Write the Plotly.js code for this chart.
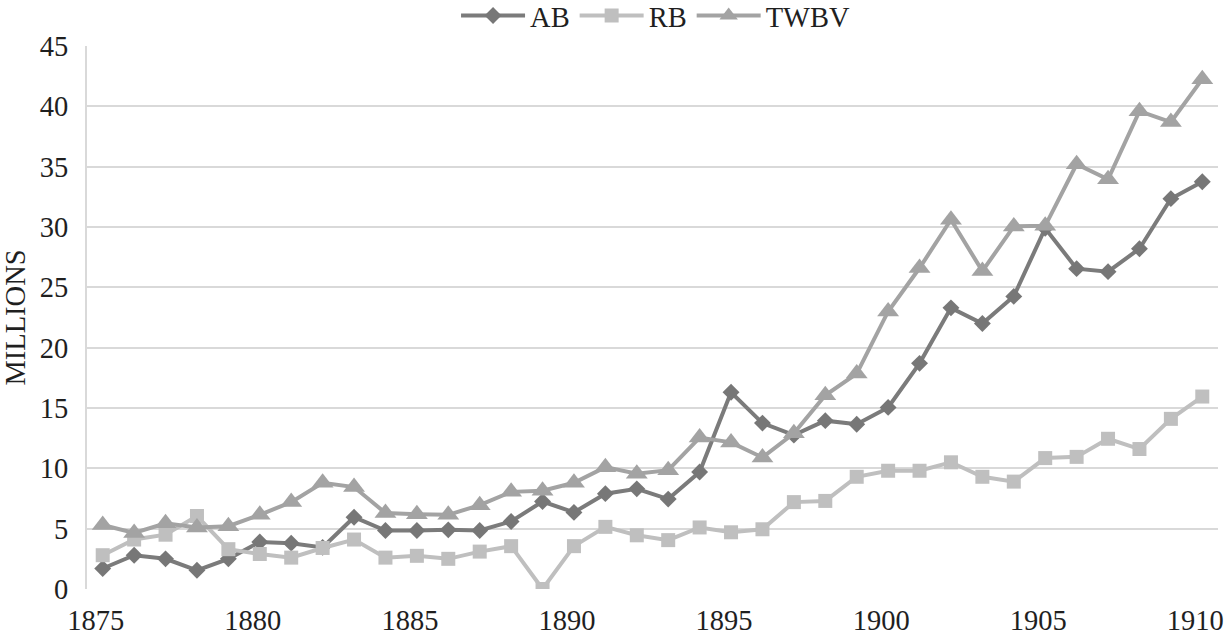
<!DOCTYPE html>
<html>
<head>
<meta charset="utf-8">
<script src="https://cdn.plot.ly/plotly-3.0.1.min.js"></script>
<style>
  html, body { margin: 0; padding: 0; background: #ffffff; }
  #chart { width: 1225px; height: 637px; }
</style>
</head>
<body>
<div id="chart"></div>
<script>
const years = [1875,1876,1877,1878,1879,1880,1881,1882,1883,1884,1885,1886,1887,1888,1889,1890,1891,1892,1893,1894,1895,1896,1897,1898,1899,1900,1901,1902,1903,1904,1905,1906,1907,1908,1909,1910];

const AB = [1.7, 2.8, 2.5, 1.55, 2.5, 3.9, 3.8, 3.45, 5.95, 4.85, 4.85, 4.9, 4.85, 5.6, 7.25, 6.35, 7.9, 8.3, 7.45, 9.7, 16.3, 13.75, 12.75, 13.95, 13.65, 15.05, 18.7, 23.3, 22.0, 24.25, 29.9, 26.55, 26.3, 28.2, 32.35, 33.75];

const RB = [2.8, 4.1, 4.5, 6.05, 3.3, 2.9, 2.6, 3.4, 4.1, 2.6, 2.75, 2.5, 3.1, 3.55, 0, 3.55, 5.15, 4.45, 4.05, 5.1, 4.7, 4.95, 7.2, 7.3, 9.3, 9.8, 9.8, 10.5, 9.3, 8.9, 10.85, 10.95, 12.45, 11.6, 14.1, 15.95];

const TWBV = [5.3, 4.65, 5.45, 5.1, 5.2, 6.15, 7.2, 8.8, 8.45, 6.3, 6.2, 6.15, 6.95, 8.05, 8.15, 8.8, 10.1, 9.55, 9.85, 12.55, 12.15, 10.9, 12.9, 16.05, 17.85, 23.0, 26.6, 30.6, 26.35, 30.05, 30.1, 35.2, 33.95, 39.6, 38.7, 42.25];

const xTicks = [1875, 1880, 1885, 1890, 1895, 1900, 1905, 1910];
const yTicks = [0, 5, 10, 15, 20, 25, 30, 35, 40, 45];

const FONT = '"Liberation Serif", "Times New Roman", Times, serif';
const TXT = '#1f1f1f';
const FS = 28.5;

const traces = [
  {
    x: years, y: AB, name: 'AB', type: 'scatter', mode: 'lines+markers',
    line: { color: '#7b7b7b', width: 4 },
    marker: { symbol: 'diamond', size: 13, color: '#777777' }
  },
  {
    x: years, y: RB, name: 'RB', type: 'scatter', mode: 'lines+markers',
    line: { color: '#bfbfbf', width: 4 },
    marker: { symbol: 'square', size: 14, color: '#bfbfbf' }
  },
  {
    x: years, y: TWBV, name: 'TWBV', type: 'scatter', mode: 'lines+markers',
    line: { color: '#a3a3a3', width: 4 },
    marker: { symbol: 'triangle-up', size: 19, color: '#a3a3a3' }
  }
];

const layout = {
  width: 1225, height: 637,
  margin: { l: 87, r: 7, t: 46, b: 48, pad: 0, autoexpand: false },
  paper_bgcolor: '#ffffff', plot_bgcolor: '#ffffff',
  font: { family: FONT, size: FS, color: TXT },
  showlegend: true,
  legend: {
    orientation: 'h', x: 0.3263, xanchor: 'left',
    y: 1.0552, yanchor: 'middle',
    font: { family: FONT, size: FS, color: TXT },
    itemwidth: 64,
    bgcolor: 'rgba(0,0,0,0)', borderwidth: 0
  },
  xaxis: {
    range: [1874.5, 1910.5],
    tickmode: 'array', tickvals: xTicks, ticktext: xTicks.map(String),
    showgrid: false, zeroline: false,
    showline: false, ticks: '',
    ticklabelshift: -7, ticklabelstandoff: 11,
    tickfont: { family: FONT, size: FS, color: TXT },
    fixedrange: true
  },
  yaxis: {
    range: [0, 45],
    tickmode: 'array', tickvals: yTicks, ticktext: yTicks.map(String),
    showgrid: true, gridcolor: '#d9d9d9', gridwidth: 2,
    zeroline: false,
    showline: true, linecolor: '#d9d9d9', linewidth: 2,
    ticks: '', ticklabelstandoff: 11,
    tickfont: { family: FONT, size: FS, color: TXT },
    title: { text: 'MILLIONS', font: { family: FONT, size: FS, color: TXT }, standoff: 18 },
    fixedrange: true
  }
};

Plotly.newPlot('chart', traces, layout, { displayModeBar: false, staticPlot: true });
</script>
</body>
</html>
